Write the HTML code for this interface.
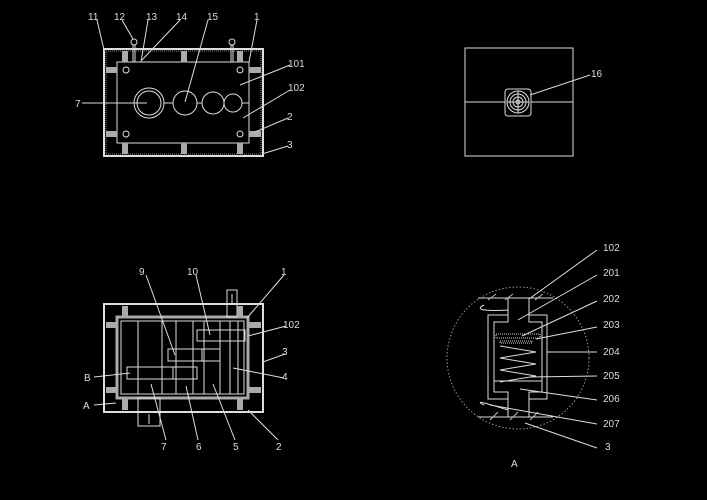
<!DOCTYPE html>
<html><head><meta charset="utf-8"><style>
html,body{margin:0;padding:0;background:#000;}
svg{display:block}
text{font-family:"Liberation Sans",sans-serif;font-size:10px;fill:#ddd;}
</style></head><body>
<svg width="707" height="500" viewBox="0 0 707 500" xmlns="http://www.w3.org/2000/svg">
<rect width="707" height="500" fill="#000"/>
<g stroke="#ddd" stroke-width="1" fill="none">
<!-- TOP LEFT VIEW -->
<rect x="104" y="49" width="159" height="107" stroke-width="2"/>
<rect x="106" y="51" width="155" height="103" stroke-dasharray="1 1" stroke="#888"/>
<rect x="117" y="62" width="132" height="81"/>
<circle cx="149" cy="103" r="15"/><circle cx="149" cy="103" r="12"/>
<circle cx="185" cy="103" r="12"/><circle cx="213" cy="103" r="11"/><circle cx="233" cy="103" r="9"/>
<line x1="82" y1="103" x2="147" y2="103"/>
<line x1="164" y1="103" x2="173" y2="103"/><line x1="197" y1="103" x2="202" y2="103"/><line x1="224" y1="103" x2="224" y2="103"/><line x1="242" y1="103" x2="249" y2="103"/>
<circle cx="126" cy="70" r="3"/><circle cx="240" cy="70" r="3"/><circle cx="126" cy="134" r="3"/><circle cx="240" cy="134" r="3"/>
<circle cx="134" cy="42" r="3"/><line x1="133" y1="45" x2="133" y2="62"/><line x1="135" y1="45" x2="135" y2="62"/>
<circle cx="232" cy="42" r="3"/><line x1="231" y1="45" x2="231" y2="62"/><line x1="233" y1="45" x2="233" y2="62"/>
<g fill="#aaa" stroke="none">
<rect x="122" y="51" width="6" height="11"/><rect x="181" y="51" width="6" height="11"/><rect x="237" y="51" width="6" height="11"/>
<rect x="122" y="143" width="6" height="11"/><rect x="181" y="143" width="6" height="11"/><rect x="237" y="143" width="6" height="11"/>
<rect x="106" y="67" width="11" height="6"/><rect x="106" y="131" width="11" height="6"/>
<rect x="249" y="67" width="12" height="6"/><rect x="249" y="131" width="12" height="6"/>
</g>
<!-- leaders top-left -->
<line x1="97" y1="20" x2="104" y2="50"/><line x1="122" y1="20" x2="133" y2="39"/>
<line x1="148" y1="20" x2="141" y2="62"/><line x1="180" y1="20" x2="142" y2="60"/>
<line x1="208" y1="20" x2="185" y2="102"/><line x1="257" y1="20" x2="249" y2="62"/>
<line x1="290" y1="65" x2="240" y2="85"/><line x1="290" y1="90" x2="243" y2="118"/>
<line x1="288" y1="118" x2="255" y2="132"/><line x1="288" y1="146" x2="262" y2="154"/>

<!-- TOP RIGHT -->
<rect x="465" y="48" width="108" height="108"/>
<line x1="465" y1="102" x2="505" y2="102"/><line x1="531" y1="102" x2="573" y2="102"/>
<rect x="505" y="89" width="26" height="27" rx="3"/>
<circle cx="518" cy="102" r="11"/><circle cx="518" cy="102" r="8"/><circle cx="518" cy="102" r="5"/><circle cx="518" cy="102" r="2"/>
<line x1="507" y1="102" x2="529" y2="102"/><line x1="518" y1="91" x2="518" y2="113"/>
<line x1="530" y1="95" x2="590" y2="75"/>

<!-- BOTTOM LEFT -->
<rect x="104" y="304" width="159" height="108" stroke-width="2"/>
<rect x="117" y="317" width="131" height="81" stroke-width="3" stroke="#aaa"/>
<rect x="121" y="321" width="123" height="73"/>
<rect x="227" y="290" width="10" height="27"/><line x1="232" y1="294" x2="232" y2="305"/>
<rect x="138" y="398" width="22" height="28"/><line x1="149" y1="414" x2="149" y2="424"/>
<rect x="197" y="330" width="48" height="11"/>
<rect x="168" y="349" width="52" height="12"/><line x1="202" y1="349" x2="202" y2="361"/>
<rect x="127" y="367" width="70" height="12"/><line x1="173" y1="367" x2="173" y2="379"/>
<line x1="138" y1="321" x2="138" y2="394"/><line x1="162" y1="321" x2="162" y2="394"/>
<line x1="176" y1="321" x2="176" y2="394"/><line x1="193" y1="321" x2="193" y2="394"/>
<line x1="204" y1="321" x2="204" y2="394"/><line x1="220" y1="321" x2="220" y2="394"/>
<line x1="230" y1="321" x2="230" y2="394"/><line x1="238" y1="321" x2="238" y2="394"/>
<g fill="#aaa" stroke="none">
<rect x="122" y="306" width="6" height="11"/><rect x="237" y="306" width="6" height="11"/>
<rect x="122" y="398" width="6" height="12"/><rect x="237" y="398" width="6" height="12"/>
<rect x="106" y="322" width="11" height="6"/><rect x="106" y="387" width="11" height="6"/>
<rect x="248" y="322" width="13" height="6"/><rect x="248" y="387" width="13" height="6"/>
</g>
<line x1="146" y1="275" x2="175" y2="355"/><line x1="196" y1="275" x2="210" y2="335"/>
<line x1="284" y1="275" x2="247" y2="318"/><line x1="286" y1="326" x2="248" y2="336"/>
<line x1="285" y1="354" x2="263" y2="362"/><line x1="284" y1="378" x2="233" y2="368"/>
<line x1="94" y1="377" x2="130" y2="373"/><line x1="94" y1="405" x2="116" y2="403"/>
<line x1="166" y1="440" x2="151" y2="384"/><line x1="198" y1="440" x2="186" y2="386"/>
<line x1="235" y1="440" x2="213" y2="384"/><line x1="278" y1="440" x2="248" y2="410"/>

<!-- BOTTOM RIGHT -->
<circle cx="518" cy="358" r="71" stroke-dasharray="1.5 2" stroke="#999"/>
<line x1="478" y1="298" x2="553" y2="298"/><line x1="478" y1="417" x2="553" y2="417"/>
<line x1="508" y1="298" x2="508" y2="315"/><line x1="529" y1="298" x2="529" y2="315"/>
<line x1="508" y1="399" x2="508" y2="417"/><line x1="529" y1="399" x2="529" y2="417"/>
<path d="M508 315 H488 V399 H508 M529 315 H547 V399 H529"/>
<path d="M508 315 V322 H494 V392 H508 V399 M529 315 V322 H542 V392 H529 V399"/>
<rect x="496" y="334" width="44" height="4" stroke-dasharray="1 1"/>
<rect x="500" y="341" width="32" height="2" stroke-dasharray="1 1"/>
<path d="M500 346 L536 352 L500 358 L536 364 L500 370 L536 376 L500 382"/>
<line x1="494" y1="381" x2="542" y2="381"/>
<path d="M484 305 Q470 312 508 310 M484 405 Q470 398 508 410"/>
<path d="M488 300 l8 -6 M505 300 l8 -6 M535 300 l8 -6 M490 420 l8 -8 M510 420 l8 -8 M530 420 l8 -8" stroke="#bbb"/>
<line x1="529" y1="299" x2="597" y2="250"/><line x1="518" y1="320" x2="597" y2="275"/>
<line x1="522" y1="336" x2="597" y2="301"/><line x1="536" y1="339" x2="597" y2="327"/>
<line x1="547" y1="352" x2="597" y2="352"/><line x1="530" y1="377" x2="597" y2="376"/>
<line x1="520" y1="389" x2="597" y2="400"/><line x1="490" y1="405" x2="597" y2="424"/>
<line x1="525" y1="423" x2="597" y2="448"/>
</g>
<g>
<text x="88" y="20">11</text><text x="114" y="20">12</text><text x="146" y="20">13</text>
<text x="176" y="20">14</text><text x="207" y="20">15</text><text x="254" y="20">1</text>
<text x="288" y="67">101</text><text x="288" y="91">102</text><text x="287" y="120">2</text>
<text x="287" y="148">3</text><text x="75" y="107">7</text><text x="591" y="77">16</text>
<text x="139" y="275">9</text><text x="187" y="275">10</text><text x="281" y="275">1</text>
<text x="283" y="328">102</text><text x="282" y="355">3</text><text x="282" y="380">4</text>
<text x="84" y="381">B</text><text x="83" y="409">A</text>
<text x="161" y="450">7</text><text x="196" y="450">6</text><text x="233" y="450">5</text><text x="276" y="450">2</text>
<text x="603" y="251">102</text><text x="603" y="276">201</text><text x="603" y="302">202</text>
<text x="603" y="328">203</text><text x="603" y="355">204</text><text x="603" y="379">205</text>
<text x="603" y="402">206</text><text x="603" y="427">207</text><text x="605" y="450">3</text>
<text x="511" y="467">A</text>
</g>
</svg>
</body></html>
